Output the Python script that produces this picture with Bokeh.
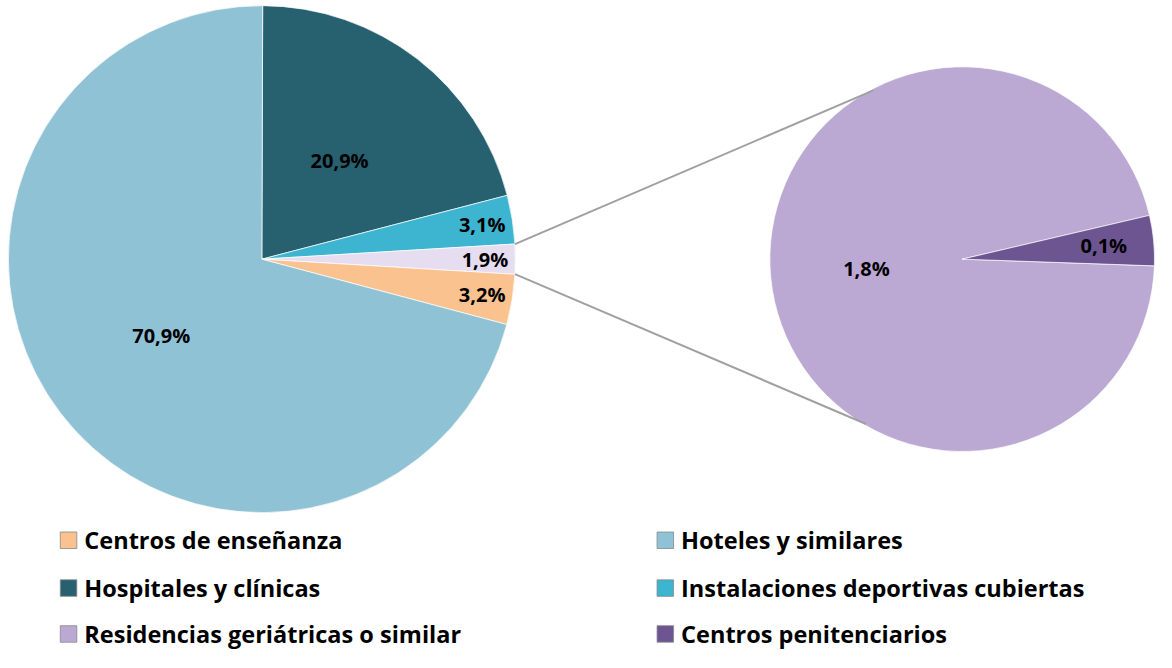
import math
from bokeh.plotting import figure
from bokeh.models import ColumnDataSource, Range1d
from bokeh.embed import file_html
from bokeh.resources import INLINE
from bokeh.core.properties import value

# ---- data ----
main_names = ["Hospitales y clínicas", "Instalaciones deportivas cubiertas", "Otros",
              "Centros de enseñanza", "Hoteles y similares"]
main_values = [20.9, 3.1, 1.9, 3.2, 70.9]
main_colors = ["#27606F", "#3DB5D0", "#E6DEF0", "#F9C28F", "#90C2D5"]

sec_names = ["Residencias geriátricas o similar", "Centros penitenciarios"]
sec_values = [1.82, 0.08]
sec_colors = ["#BBA9D3", "#6C5591"]

legend_names = ["Centros de enseñanza", "Hoteles y similares",
                "Hospitales y clínicas", "Instalaciones deportivas cubiertas",
                "Residencias geriátricas o similar", "Centros penitenciarios"]
legend_colors = ["#F9C28F", "#90C2D5", "#27606F", "#3DB5D0", "#BBA9D3", "#6C5591"]

FONT = "Open Sans"
W, H = 1156, 652
RW, RH = 1172, 668  # reference frame mapped onto the figure

def fmt(v):
    return f"{v:.1f}".replace(".", ",") + "%"

p = figure(width=W, height=H, output_backend="svg", toolbar_location=None,
           x_range=Range1d(0, RW), y_range=Range1d(0, RH),
           min_border=0, outline_line_color=None)
p.axis.visible = False
p.grid.visible = False
p.background_fill_color = "white"
p.border_fill_color = "white"

# ---- main pie ----
mcx, mcy, mR = 265, 403, 257
other_idx = 2
total = sum(main_values)
deg = [v / total * 360 for v in main_values]
top = deg[other_idx] / 2 + sum(deg[:other_idx])
starts, ends, lx, ly, labs = [], [], [], [], []
cum = 0
for i, d in enumerate(deg):
    a0 = top - cum
    a1 = a0 - d
    starts.append(math.radians(a1))
    ends.append(math.radians(a0))
    mid = math.radians((a0 + a1) / 2)
    rf = 0.5 if main_values[i] > 10 else 0.88
    lx.append(mcx + rf * mR * math.cos(mid))
    ly.append(mcy + rf * mR * math.sin(mid))
    labs.append(fmt(main_values[i]))
    cum += d

msrc = ColumnDataSource(dict(start=starts, end=ends, color=main_colors,
                             lx=lx, ly=ly, lab=labs))
p.wedge(x=mcx, y=mcy, radius=mR, start_angle="start", end_angle="end",
        direction="anticlock", fill_color="color", line_color="white",
        line_alpha=0.7, line_width=1, source=msrc)

# ---- secondary pie ----
scx, scy, sR = 975, 403, 195
stot = sum(sec_values)
sdeg = [v / stot * 360 for v in sec_values]
p_start = -2.0
s_st = [p_start + sdeg[1], p_start]
s_en = [p_start + sdeg[1] + sdeg[0], p_start + sdeg[1]]
slx, sly, slab = [], [], []
for i in range(2):
    mid = math.radians((s_st[i] + s_en[i]) / 2)
    rf = 0.5 if i == 0 else 0.74
    slx.append(scx + rf * sR * math.cos(mid))
    sly.append(scy + rf * sR * math.sin(mid))
    slab.append(fmt(sec_values[i]))
ssrc = ColumnDataSource(dict(start=[math.radians(a) for a in s_st],
                             end=[math.radians(a) for a in s_en],
                             color=sec_colors, lx=slx, ly=sly, lab=slab))
p.wedge(x=scx, y=scy, radius=sR, start_angle="start", end_angle="end",
        direction="anticlock", fill_color="color", line_color="white",
        line_alpha=0.7, line_width=1, source=ssrc)

# ---- connector lines ----
oa = deg[other_idx] / 2
e_top, e_bot = 117.5, 240.0
p.segment(x0=[mcx + mR * math.cos(math.radians(oa)), mcx + mR * math.cos(math.radians(-oa))],
          y0=[mcy + mR * math.sin(math.radians(oa)), mcy + mR * math.sin(math.radians(-oa))],
          x1=[scx + sR * math.cos(math.radians(e_top)), scx + sR * math.cos(math.radians(e_bot))],
          y1=[scy + sR * math.sin(math.radians(e_top)), scy + sR * math.sin(math.radians(e_bot))],
          line_color="#A0A0A0", line_width=2)

# ---- data labels ----
for src in (msrc, ssrc):
    p.text(x="lx", y="ly", text="lab", source=src, text_font=value(FONT),
           text_font_style="bold", text_font_size="20px", text_color="black",
           text_align="center", text_baseline="middle")

# ---- legend ----
row_y = [RH - 553, RH - 602, RH - 649]
col_mx = [69, 674]
col_tx = [85, 690]
gx, gy, tx = [], [], []
for i in range(len(legend_names)):
    r, c = divmod(i, 2)
    gx.append(col_mx[c]); gy.append(row_y[r]); tx.append(col_tx[c])
lsrc = ColumnDataSource(dict(gx=gx, gy=gy, tx=tx, name=legend_names, color=legend_colors))
p.scatter(x="gx", y="gy", marker="square", size=16.5, fill_color="color",
          line_color="#888888", line_width=0.8, source=lsrc)
p.text(x="tx", y="gy", text="name", source=lsrc, text_font=value(FONT),
       text_font_style="bold", text_font_size="23.5px", text_color="black",
       text_align="left", text_baseline="middle")

open("out.html", "w").write(file_html(p, INLINE))
